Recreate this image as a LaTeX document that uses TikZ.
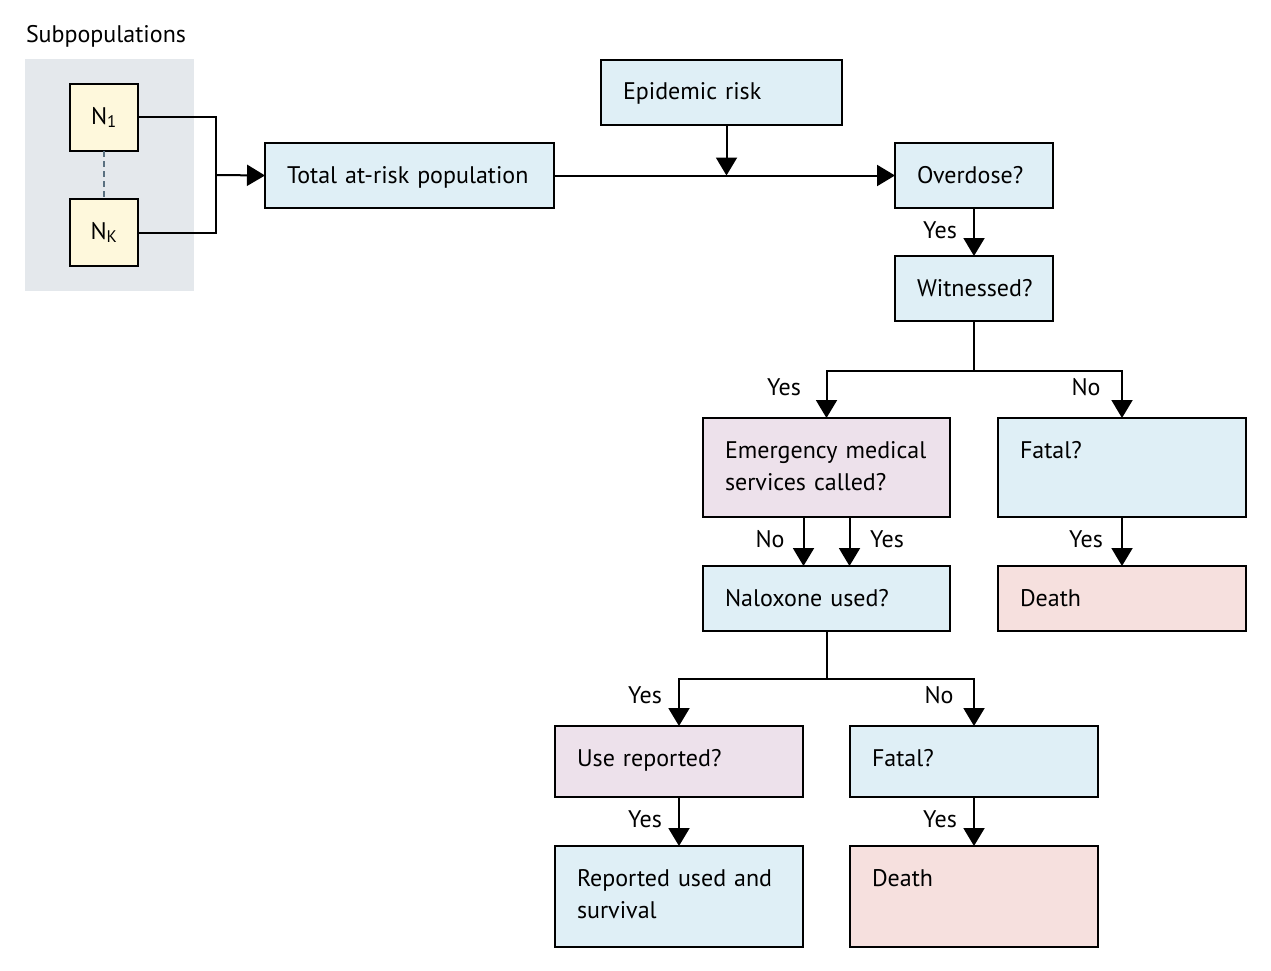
\documentclass[tikz,border=0pt]{standalone}
\usepackage{fontspec}
\setmainfont{PT Sans}
\usetikzlibrary{arrows.meta,positioning}
\definecolor{boxblue}{HTML}{DFEFF6}
\definecolor{boxpurple}{HTML}{EDE1EB}
\definecolor{boxpink}{HTML}{F6E0DE}
\definecolor{boxyellow}{HTML}{FEF8DC}
\definecolor{panelgrey}{HTML}{E4E8EC}
\definecolor{dashgrey}{HTML}{5A7080}

\begin{document}
\begin{tikzpicture}[x=1pt, y=-1pt, line width=2pt,
  box/.style={draw=black, rectangle, anchor=north west, outer sep=0pt, inner xsep=22pt, inner ysep=0pt,
              align=left, text height=40pt, font=\fontsize{24}{32}\selectfont},
  lab/.style={inner sep=0pt, font=\fontsize{24}{32}\selectfont},
  arr/.style={-{Triangle[length=18pt,width=21pt]}}]
\useasboundingbox (0,0) rectangle (1271,971);

% subpopulations
\node[lab, anchor=west] (subpop) at (25,36) {Subpopulations};
\node[fill=panelgrey, minimum width=169pt, minimum height=232pt, anchor=north west, inner sep=0pt, outer sep=0pt] (panel) at (25,59) {};
\node[draw=black, fill=boxyellow, minimum width=68pt, minimum height=67pt, anchor=north west, inner sep=0pt, outer sep=0pt, lab] (n1) at (70,84) {N\textsubscript{1}};
\node[draw=black, fill=boxyellow, minimum width=68pt, minimum height=67pt, anchor=north west, inner sep=0pt, outer sep=0pt, lab] (nk) at (70,199) {N\textsubscript{K}};
\draw[dashgrey, dash pattern=on 6pt off 4pt] (n1) -- (nk);
\coordinate (joint) at (216,175);

% boxes
\node[box, fill=boxblue, text width=245pt, text depth=25pt] (total) at (265,143) {Total at-risk population};
\node[box, fill=boxblue, text width=197pt, text depth=25pt] (epi) at (601,60) {Epidemic risk};
\node[box, fill=boxblue, text width=114pt, text depth=25pt] (overdose) at (895,143) {Overdose?};
\node[box, fill=boxblue, text width=114pt, text depth=25pt] (witnessed) at (895,256) {Witnessed?};
\node[box, fill=boxpurple, text width=203pt, text depth=59pt] (ems) at (703,418) {Emergency medical\\services called?};
\node[box, fill=boxblue, text width=204pt, text depth=59pt] (fatalA) at (998,418) {Fatal?};
\node[box, fill=boxpink, text width=204pt, text depth=25pt] (deathA) at (998,566) {Death};
\node[box, fill=boxblue, text width=203pt, text depth=25pt] (naloxone) at (703,566) {Naloxone used?};
\node[box, fill=boxpurple, text width=204pt, text depth=31pt] (reported) at (555,726) {Use reported?};
\node[box, fill=boxblue, text width=204pt, text depth=31pt] (fatalB) at (850,726) {Fatal?};
\node[box, fill=boxblue, text width=204pt, text depth=61pt] (survival) at (555,846) {Reported used and\\survival};
\node[box, fill=boxpink, text width=204pt, text depth=61pt] (deathB) at (850,846) {Death};

% yes / no labels
\node[lab] (yesA) at (940,230) {Yes};
\node[lab] (yesB) at (784,387) {Yes};
\node[lab] (noB) at (1086,387) {No};
\node[lab] (noC) at (770,539) {No};
\node[lab] (yesC) at (887,539) {Yes};
\node[lab] (yesD) at (1086,539) {Yes};
\node[lab] (yesE) at (645,695) {Yes};
\node[lab] (noE) at (939,695) {No};
\node[lab] (yesF) at (645,819) {Yes};
\node[lab] (yesG) at (940,819) {Yes};

% connectors
\draw (n1.east) -| (joint);
\draw (nk.east) -| (joint);
\draw[arr] (joint) -- (total.west);
\draw[arr] (total.east) -- (overdose.west);
\draw[arr] ([xshift=5pt]epi.south) -- ([xshift=5pt]epi.south |- total.east);
\draw[arr] (overdose) -- (witnessed);
\draw (witnessed.south) -- ++(0,50) coordinate (splitA);
\draw[arr] (splitA) -| (ems.north);
\draw[arr] (splitA) -| (fatalA.north);
\draw[arr] (fatalA) -- (deathA);
\draw[arr] ([xshift=-23pt]ems.south) -- ([xshift=-23pt]naloxone.north);
\draw[arr] ([xshift=23pt]ems.south) -- ([xshift=23pt]naloxone.north);
\draw (naloxone.south) -- ++(0,48) coordinate (splitB);
\draw[arr] (splitB) -| (reported.north);
\draw[arr] (splitB) -| (fatalB.north);
\draw[arr] (reported) -- (survival);
\draw[arr] (fatalB) -- (deathB);
\end{tikzpicture}
\end{document}
